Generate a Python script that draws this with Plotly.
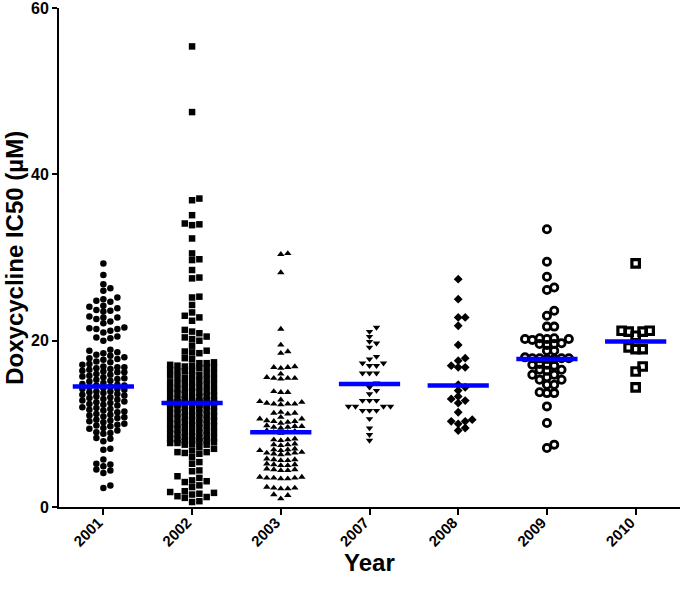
import plotly.graph_objects as go

years = ["2001", "2002", "2003", "2007", "2008", "2009", "2010"]

y2001 = [29.3, 27.9, 26.8, 26.3, 26.0, 25.2, 25.0, 24.8, 24.7, 24.2, 24.1, 23.9, 23.7, 23.6, 23.5,
         22.9, 22.8, 22.8, 22.6, 22.3, 22.1, 21.6, 21.5, 21.4, 21.4, 21.2, 21.0, 20.5, 20.4, 20.3, 20.0,
         18.9, 18.8, 18.6, 18.5, 18.3, 18.2, 18.0, 17.9, 17.8, 17.7, 17.5, 17.4, 17.2, 17.1,
         16.9, 16.8, 16.8, 16.7, 16.6, 16.5, 16.4, 16.3, 16.2, 16.2, 16.0, 15.9, 15.8, 15.7, 15.6, 15.5,
         15.4, 15.3, 15.2, 15.1,
         14.9, 14.8, 14.7, 14.6, 14.6, 14.5, 14.4, 14.3, 14.2, 14.2, 14.1, 13.9, 13.9, 13.8, 13.7, 13.6,
         13.5, 13.4, 13.3, 13.2, 13.1, 13.0,
         12.9, 12.8, 12.7, 12.6, 12.5, 12.4, 12.3, 12.2, 12.0, 11.9, 11.8, 11.7, 11.6, 11.5, 11.4, 11.2,
         11.1, 11.0,
         10.9, 10.8, 10.7, 10.5, 10.4, 10.3, 10.2, 10.0, 9.9, 9.8, 9.7, 9.5, 9.4, 9.2, 9.0, 8.9, 8.8,
         8.3, 8.2, 7.9, 7.0, 6.9, 5.7, 5.2, 5.1, 4.9, 4.5, 4.4, 4.1, 2.6, 2.3]

y2002 = [55.4, 47.5, 37.1, 36.9, 35.1, 34.1, 34.0, 33.9, 32.3, 30.5, 29.8, 29.7, 28.5, 27.6, 27.5,
         25.3, 25.2, 24.3, 23.4, 23.0, 22.8, 22.4, 21.3, 21.1, 20.9, 20.5, 20.4, 20.2, 20.0, 19.4,
         18.8, 18.7, 18.6, 18.5, 17.9, 17.8,
         17.4, 17.3, 17.3, 17.1, 17.0, 17.0, 16.9, 16.8, 16.7, 16.7, 16.5, 16.4,
         16.3, 16.3, 16.1, 16.0, 15.9, 15.8, 15.8, 15.6, 15.5, 15.4, 15.3, 15.2,
         15.1, 15.0, 14.9, 14.8, 14.7, 14.6, 14.5, 14.4, 14.3, 14.2, 14.1, 14.0,
         13.9, 13.8, 13.8, 13.7, 13.6, 13.5, 13.4, 13.3, 13.2, 13.1, 13.0, 12.9,
         12.9, 12.8, 12.8, 12.7, 12.7, 12.6, 12.6, 12.6, 12.5, 12.5, 12.5, 12.5,
         12.4, 12.4, 12.3, 12.3, 12.2, 12.2, 12.1, 12.0, 12.0, 11.9, 11.8, 11.7, 11.6,
         11.5, 11.4, 11.3, 11.3, 11.2, 11.1, 11.0, 10.9, 10.8, 10.7, 10.6, 10.6, 10.5,
         10.4, 10.3, 10.2, 10.1, 10.0, 9.9, 9.9, 9.8, 9.7, 9.6, 9.5, 9.4, 9.3,
         9.2, 9.1, 9.0, 9.0, 8.9, 8.8, 8.7, 8.6, 8.5, 8.4, 8.3, 8.3, 8.2,
         8.1, 8.0, 8.0, 7.9, 7.9, 7.8, 7.7, 7.7, 7.6, 7.5, 7.5,
         7.2, 7.0, 6.8, 6.6, 6.6, 6.5, 6.4, 6.0, 5.4, 5.2, 4.4, 4.3, 3.7, 3.5, 3.2, 3.1, 3.0,
         2.6, 2.4, 1.9, 1.8, 1.7, 1.6, 1.5, 1.3, 1.2, 1.1, 0.7, 0.6]

y2003 = [30.5, 30.4, 28.2, 21.4, 19.5, 18.7, 18.5,
         16.9, 16.8, 16.8, 16.7, 16.0, 15.5, 15.5, 15.4, 15.5, 15.6,
         13.9, 13.8, 13.8, 12.9, 12.6, 12.4, 12.4, 12.3, 12.4, 12.5, 12.7,
         11.4, 11.3, 11.2, 11.3, 10.8, 10.6, 10.6,
         10.4, 10.3, 10.2, 10.3, 10.1, 9.8, 9.7, 9.6, 9.7, 9.5, 9.6,
         9.2, 9.1, 9.0, 8.9, 9.0, 8.2, 8.1, 8.0, 8.1, 7.6, 7.5, 7.4, 7.5,
         7.0, 6.9, 6.8, 6.9, 6.8, 6.5, 6.4, 6.5, 6.3, 6.4, 6.6,
         5.8, 5.7, 5.6, 5.7, 5.6, 5.2, 5.1, 5.0, 5.1, 5.0, 4.6, 4.5, 4.4, 4.5, 4.4,
         3.6, 3.5, 3.4, 3.5, 3.4, 3.6, 3.5, 2.4, 2.3, 2.2, 2.3, 2.2, 1.5, 1.4, 1.0]

y2007 = [21.6, 21.1, 20.5, 19.9, 19.7, 19.2, 18.1, 17.8, 17.3, 17.3, 17.0, 17.0, 16.1, 16.1, 16.1,
         14.9, 14.4, 14.0, 13.6, 12.8, 12.8, 12.8, 12.1, 12.1, 12.1, 12.1, 11.6, 11.6, 11.6,
         10.6, 9.5, 8.7, 8.0]

y2008 = [27.4, 25.0, 22.8, 22.8, 21.8, 19.5, 17.9, 17.6, 17.0, 16.8, 16.8, 14.7, 14.4, 14.0,
         13.3, 13.0, 12.8, 12.5, 11.4, 10.5, 10.3, 10.3, 10.0, 9.5, 9.2]

y2009 = [33.4, 29.5, 27.7, 26.4, 26.1, 23.6, 23.0, 21.7, 21.7, 20.3, 20.2, 20.2, 20.1, 20.2, 20.3,
         19.6, 19.6, 19.5, 19.7, 18.8, 18.8, 17.9, 17.9, 17.8, 17.9, 18.0, 17.8, 17.9,
         17.1, 17.1, 17.0, 17.2, 16.5, 16.5, 16.4, 15.9, 15.9, 15.6, 15.3, 15.3, 14.7, 14.7,
         13.7, 13.7, 13.8, 12.1, 10.1, 7.5, 7.1]

y2010 = [29.3, 21.2, 21.2, 21.1, 21.1, 20.6, 19.2, 19.0, 19.0, 16.9, 16.3, 14.4]

medians = [14.5, 12.5, 9.0, 14.8, 14.6, 17.8, 19.9]

W, H = 680, 589
ML, MR, MT, MB = 59, 0, 8, 82
px_x = (W - ML - MR) / 7.0
px_y = (H - MT - MB) / 60.0


def swarm(values, col_px, gap_px, max_k):
    # GraphPad-like column layout: each point goes to the nearest free column
    ks = [0]
    for j in range(1, max_k + 1):
        ks += [j, -j]
    cols = {}
    offs = [0.0] * len(values)
    for i in sorted(range(len(values)), key=lambda n: values[n]):
        y = values[i] * px_y
        best_k, best_d = 0, -1
        for k in ks:
            d = min([abs(y - yy) for yy in cols.get(k, [])], default=1e9)
            if d >= gap_px:
                best_k = k
                break
            if d > best_d:
                best_d, best_k = d, k
        cols.setdefault(best_k, []).append(y)
        offs[i] = best_k * col_px / px_x
    return offs


groups = [
    (y2001, dict(symbol="circle", size=6.5), 7.0, 5.2, 3),
    (y2002, dict(symbol="square", size=6.5), 7.3, 6.0, 3),
    (y2003, dict(symbol="triangle-up", size=6.5), 7.0, 4.5, 3),
    (y2007, dict(symbol="triangle-down", size=6.5), 7.0, 4.5, 3),
    (y2008, dict(symbol="diamond", size=6.8), 7.0, 5.0, 3),
    (y2009, dict(symbol="circle-open", size=7.2, line=dict(width=2.8, color="black")), 7.3, 5.5, 3),
    (y2010, dict(symbol="square-open", size=7.5, line=dict(width=3.2, color="black")), 7.0, 8.0, 2),
]

fig = go.Figure()

for i, (vals, marker, col_px, gap_px, max_k) in enumerate(groups):
    offs = swarm(vals, col_px, gap_px, max_k)
    graph = go.Scatter(x=[i + o for o in offs], y=vals,
                       mode="markers",
                       marker=dict(color="black", **marker),
                       cliponaxis=False,
                       name=years[i])
    fig.add_trace(graph)

for i, m in enumerate(medians):
    graph = go.Scatter(x=[i - 0.345, i + 0.345], y=[m, m],
                       mode="lines",
                       line=dict(color="#0000ff", width=4.5),
                       cliponaxis=False,
                       name="median " + years[i])
    fig.add_trace(graph)

font = "Liberation Sans, Arial, sans-serif"
title_font = dict(family=font, size=24, color="black", weight="bold")
fig.update_layout(
    width=W, height=H,
    margin=dict(l=ML, r=MR, t=MT, b=MB),
    plot_bgcolor="white", paper_bgcolor="white",
    showlegend=False,
    xaxis=dict(range=[-0.5, 6.5], tickvals=list(range(7)), ticktext=years,
               tickangle=-45, showgrid=False, zeroline=False,
               showline=True, linecolor="black", linewidth=2,
               ticks="outside", ticklen=6, tickwidth=2, tickcolor="black",
               tickfont=dict(family=font, size=15, color="black", weight="bold"),
               ticklabelshift=-5, ticklabelstandoff=-7,
               automargin=False),
    yaxis=dict(range=[0, 60.02], tickvals=[0, 20, 40, 60],
               showgrid=False, zeroline=False,
               showline=True, linecolor="black", linewidth=2,
               ticks="outside", ticklen=5, tickwidth=2, tickcolor="black",
               tickfont=dict(family=font, size=16, color="black", weight="bold"),
               ticklabeloverflow="allow",
               automargin=False),
    annotations=[
        dict(text="Year", xref="paper", yref="paper", x=0.5, y=-0.112,
             xanchor="center", yanchor="middle", showarrow=False, font=title_font),
        dict(text="Doxycycline IC50 (µM)", xref="paper", yref="paper", x=-0.072, y=0.5,
             xanchor="center", yanchor="middle", textangle=-90, showarrow=False, font=title_font),
    ],
)

fig.write_html("out.html", config={"displayModeBar": False},
               post_script="document.body.style.margin='0px';")
